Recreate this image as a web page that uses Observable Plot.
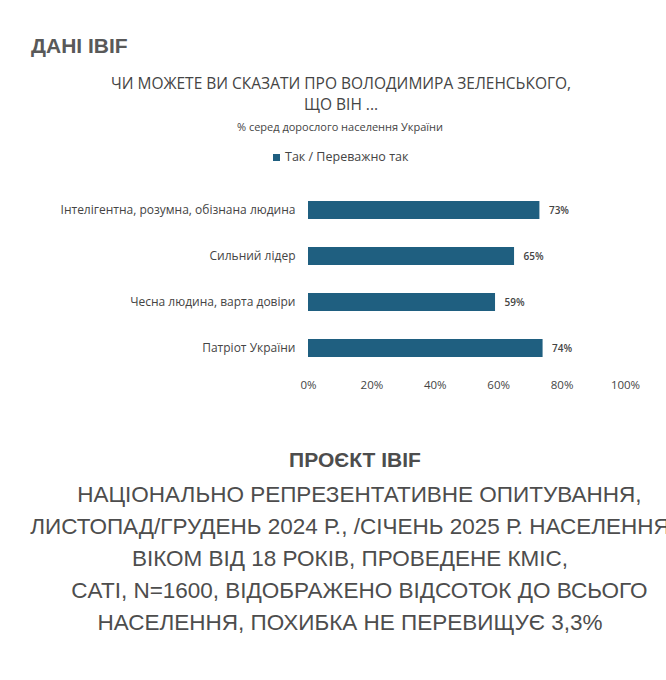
<!DOCTYPE html>
<html><head><meta charset="utf-8">
<script src="https://cdn.jsdelivr.net/npm/d3@7"></script>
<script src="https://cdn.jsdelivr.net/npm/@observablehq/plot@0.6"></script>
<style>
body{margin:0;background:#fff;font-family:"Open Sans",sans-serif;}
#wrap{position:relative;width:666px;height:680px;}
.a{position:absolute;}
</style></head><body>
<div id="wrap">
<div class="a" style="left:31px;top:34px;font-size:21px;font-weight:bold;color:#595959;font-family:'Liberation Sans',Arial,sans-serif;">ДАНІ IBIF</div>
<div class="a" style="left:0;width:682px;top:73px;text-align:center;font-size:15.5px;color:#444;line-height:21px;">ЧИ МОЖЕТЕ ВИ СКАЗАТИ ПРО ВОЛОДИМИРА ЗЕЛЕНСЬКОГО,<br>ЩО ВІН ...</div>
<div class="a" style="left:0;width:680px;top:119px;text-align:center;font-size:11px;color:#444;">% серед дорослого населення України</div>
<div class="a" style="left:273px;top:148px;font-size:12.5px;color:#444;"><span style="display:inline-block;width:7px;height:7px;background:#1f5f80;margin-right:5px;"></span>Так / Переважно так</div>
<div id="chart" class="a" style="left:0;top:172px;"></div>
<div class="a" style="left:0;width:710px;top:448px;text-align:center;font-size:21px;font-weight:bold;color:#4d4d4d;font-family:'Liberation Sans',Arial,sans-serif;">ПРОЄКТ IBIF</div>
<div class="a" style="left:0;width:700px;top:479px;text-align:center;font-size:22.5px;color:#4d4d4d;line-height:32px;font-family:'Liberation Sans',Arial,sans-serif;">&nbsp;&nbsp;&nbsp;НАЦІОНАЛЬНО РЕПРЕЗЕНТАТИВНЕ ОПИТУВАННЯ,<br>ЛИСТОПАД/ГРУДЕНЬ 2024 Р., /СІЧЕНЬ 2025 Р. НАСЕЛЕННЯ<br>ВІКОМ ВІД 18 РОКІВ, ПРОВЕДЕНЕ КМІС,<br>&nbsp;&nbsp;&nbsp;CATI, N=1600, ВІДОБРАЖЕНО ВІДСОТОК ДО ВСЬОГО<br>НАСЕЛЕННЯ, ПОХИБКА НЕ ПЕРЕВИЩУЄ 3,3%</div>
</div>
<script>
const categories = ["Інтелігентна, розумна, обізнана людина","Сильний лідер","Чесна людина, варта довіри","Патріот України"];
const values = [73,65,59,74];
const ticks = [0,20,40,60,80,100];
const data = categories.map((c,i)=>({c,v:values[i]}));
const chart = Plot.plot({
  width:666,height:234,marginLeft:308,marginRight:41,marginTop:0,marginBottom:20,
  style:{fontFamily:"Open Sans, sans-serif",fontSize:"12px",color:"#444"},
  x:{domain:[0,100],label:null,axis:null},
  y:{domain:categories,padding:0.6,label:null,tickSize:0,tickPadding:13},
  marks:[
    Plot.axisX({ticks,tickFormat:d=>d+"%",tickSize:0,tickPadding:0,dy:-6,label:null,fontSize:11.5}),
    Plot.barX(data,{x:"v",y:"c",fill:"#1f5f80"}),
    Plot.text(data,{x:"v",y:"c",text:d=>d.v+"%",dx:9,textAnchor:"start",fontSize:10,fontWeight:600,fill:"#444"})
  ]
});
document.getElementById("chart").appendChild(chart);
</script>
</body></html>
